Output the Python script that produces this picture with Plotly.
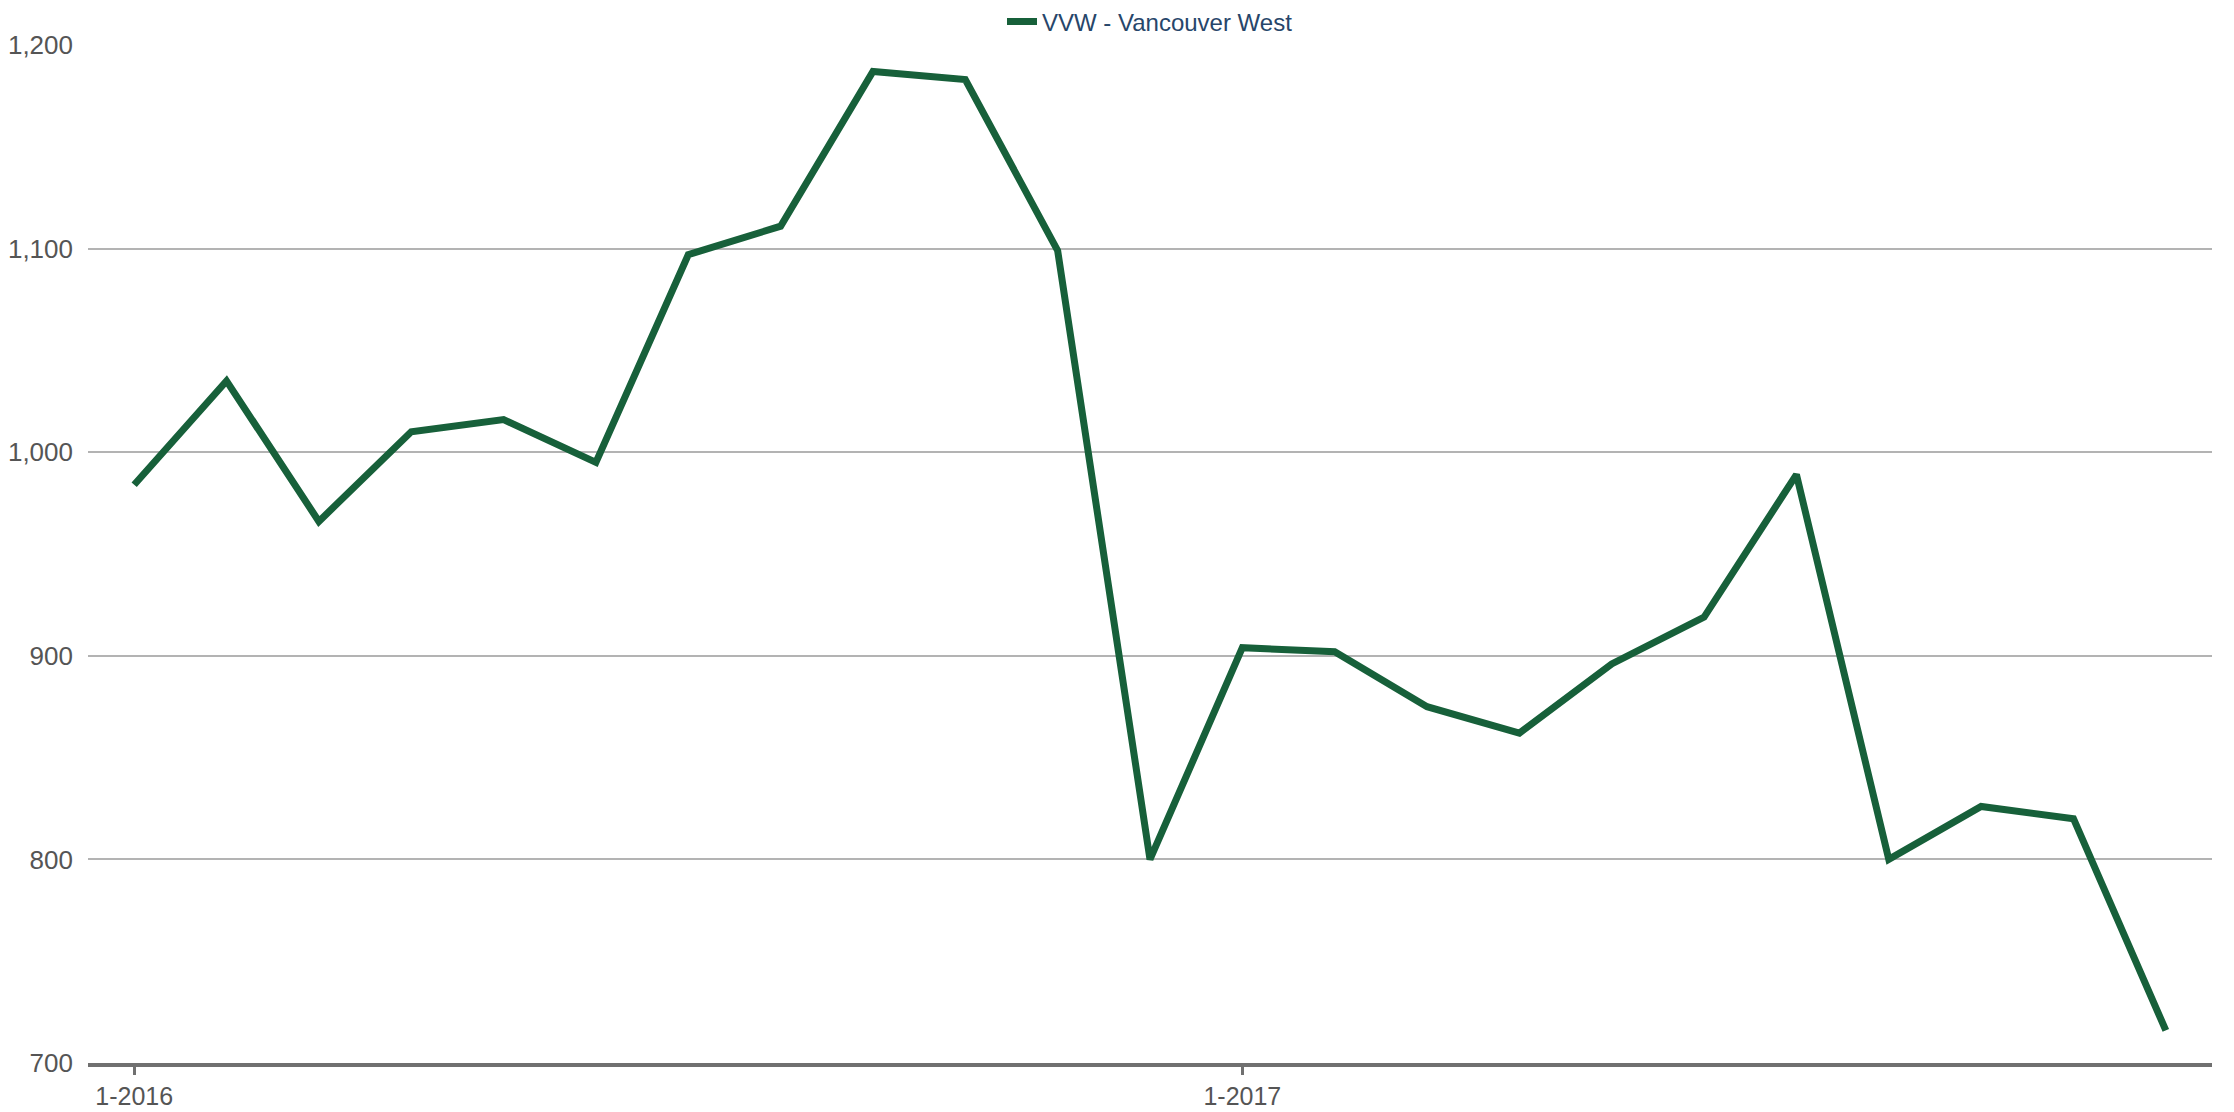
import plotly.graph_objects as go

months = [f"{m}-2016" for m in range(1, 13)] + [f"{m}-2017" for m in range(1, 12)]
values = [984, 1035, 966, 1010, 1016, 995, 1097, 1111, 1187, 1183, 1099, 800,
          904, 902, 875, 862, 896, 919, 989, 800, 826, 820, 716]
series_name = "VVW - Vancouver West"
tick_labels = ["1-2016", "1-2017"]
y_ticks = [700, 800, 900, 1000, 1100, 1200]

# page body has an 8px margin, so the figure is offset by (8, 8)
W, H = 2226, 1104
ML, MR, MT, MB = 80, 22, 37, 49

fig = go.Figure()
fig.add_trace(go.Scatter(
    x=months, y=values, mode="lines", name=series_name,
    line=dict(color="#17603a", width=7),
))

fig.update_layout(
    width=W, height=H,
    margin=dict(l=ML, r=MR, t=MT, b=MB, autoexpand=False),
    paper_bgcolor="white", plot_bgcolor="white",
    font=dict(family="Liberation Sans, Arial, sans-serif", size=24, color="#555555"),
    showlegend=True,
    legend=dict(orientation="h", x=0.5, xanchor="center",
                y=1 + 23 / (H - MT - MB), yanchor="middle",
                font=dict(size=24, color="#27466a"),
                itemwidth=30, bgcolor="rgba(0,0,0,0)"),
    xaxis=dict(
        type="category", range=[-0.5, len(months) - 0.5],
        tickmode="array", tickvals=tick_labels, ticktext=tick_labels,
        ticks="outside", ticklen=8, tickwidth=3, tickcolor="#707070",
        showline=True, linecolor="#707070", linewidth=4,
        showgrid=False, zeroline=False,
        tickfont=dict(size=25, color="#555555"),
    ),
    yaxis=dict(
        range=[700, 1200], tickmode="array", tickvals=y_ticks,
        tickformat=",d", showgrid=True, gridcolor="#b3b3b3", gridwidth=1.6,
        zeroline=False, showline=False, ticks="", ticklabelstandoff=14,
        tickfont=dict(size=26, color="#555555"),
    ),
)

fig.write_html("out.html")
